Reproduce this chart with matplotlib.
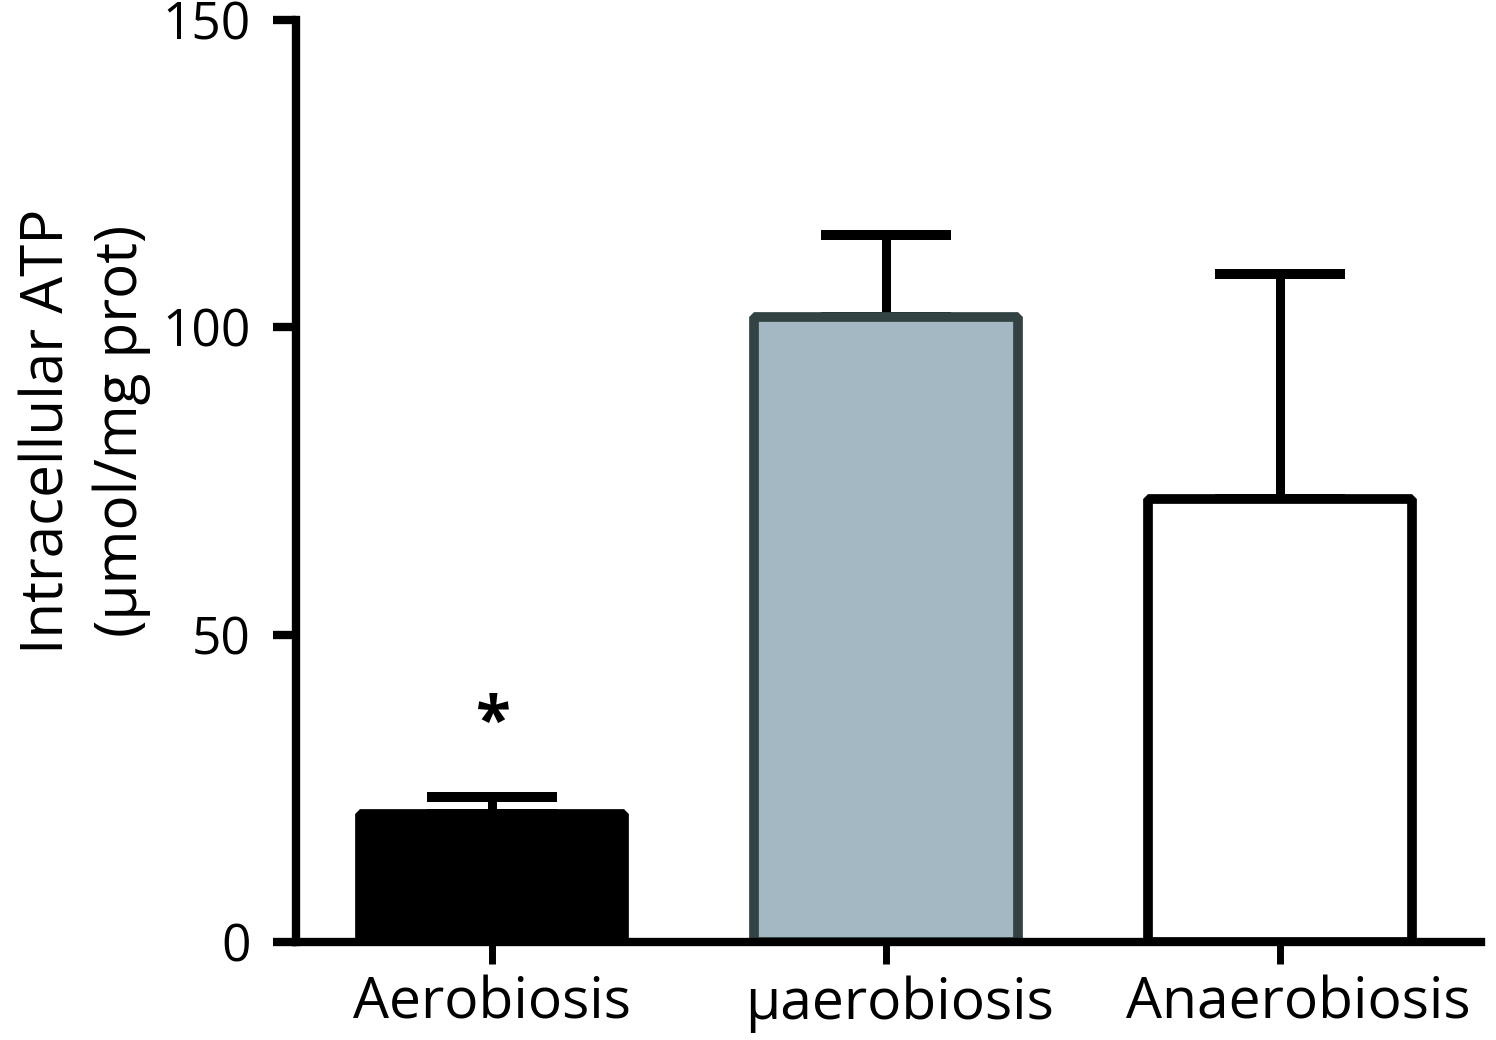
import matplotlib
matplotlib.use("Agg")
import matplotlib.pyplot as plt
from matplotlib.transforms import ScaledTranslation

categories = ["Aerobiosis", "\u03bcaerobiosis", "Anaerobiosis"]
means = [20.8, 101.7, 72.1]
sem_upper = [2.8, 13.3, 36.6]
fill_colors = ["#000000", "#a3b8c3", "#ffffff"]
edge_colors = ["#000000", "#334343", "#000000"]
y_ticks = [0, 50, 100, 150]
star_label = "*"
star_value = 35.3

plt.rcParams['font.family'] = ['Open Sans', 'DejaVu Sans']

fig = plt.figure(figsize=(14.96, 10.40), dpi=100)
ax = fig.add_axes([0.1979, 0.0942, 0.99 - 0.1979, 0.9808 - 0.0942])

x = list(range(len(categories)))
ax.errorbar(x, means, yerr=[[0] * len(means), sem_upper], fmt='none',
            ecolor='black', elinewidth=6.5, capsize=47, capthick=7.2, zorder=1)
bars = ax.bar(x, means, width=0.668, color=fill_colors, edgecolor=edge_colors,
              linewidth=7, zorder=2)
for b in bars:
    b.set_joinstyle('bevel')

ax.text(0, star_value, star_label, ha='center', va='center', fontsize=46,
        fontweight='bold')

ax.set_xlim(-0.497, 2.51)
ax.set_ylim(0, 150)
ax.set_yticks(y_ticks)
ax.set_xticks(x)
ax.set_xticklabels(categories, fontsize=41)
ax.tick_params(axis='y', labelsize=37, length=16.5, width=6, pad=16, direction='out')
ax.tick_params(axis='x', length=16, width=5, pad=8, direction='out')

# small horizontal nudges of category labels as in the original typesetting
shifts_px = [0, 14, 18]
for lbl, dx in zip(ax.get_xticklabels(), shifts_px):
    lbl.set_transform(lbl.get_transform() + ScaledTranslation(dx / 100, 0, fig.dpi_scale_trans))

ax.set_ylabel("Intracellular ATP\n(\u03bcmol/mg prot)", fontsize=42,
              linespacing=1.35)
ax.yaxis.set_label_coords(-0.122, 0.554)

for s in ['top', 'right']:
    ax.spines[s].set_visible(False)
for s in ['left', 'bottom']:
    ax.spines[s].set_linewidth(6)
    ax.spines[s].set_zorder(3)

fig.savefig("out.png", dpi=100)
